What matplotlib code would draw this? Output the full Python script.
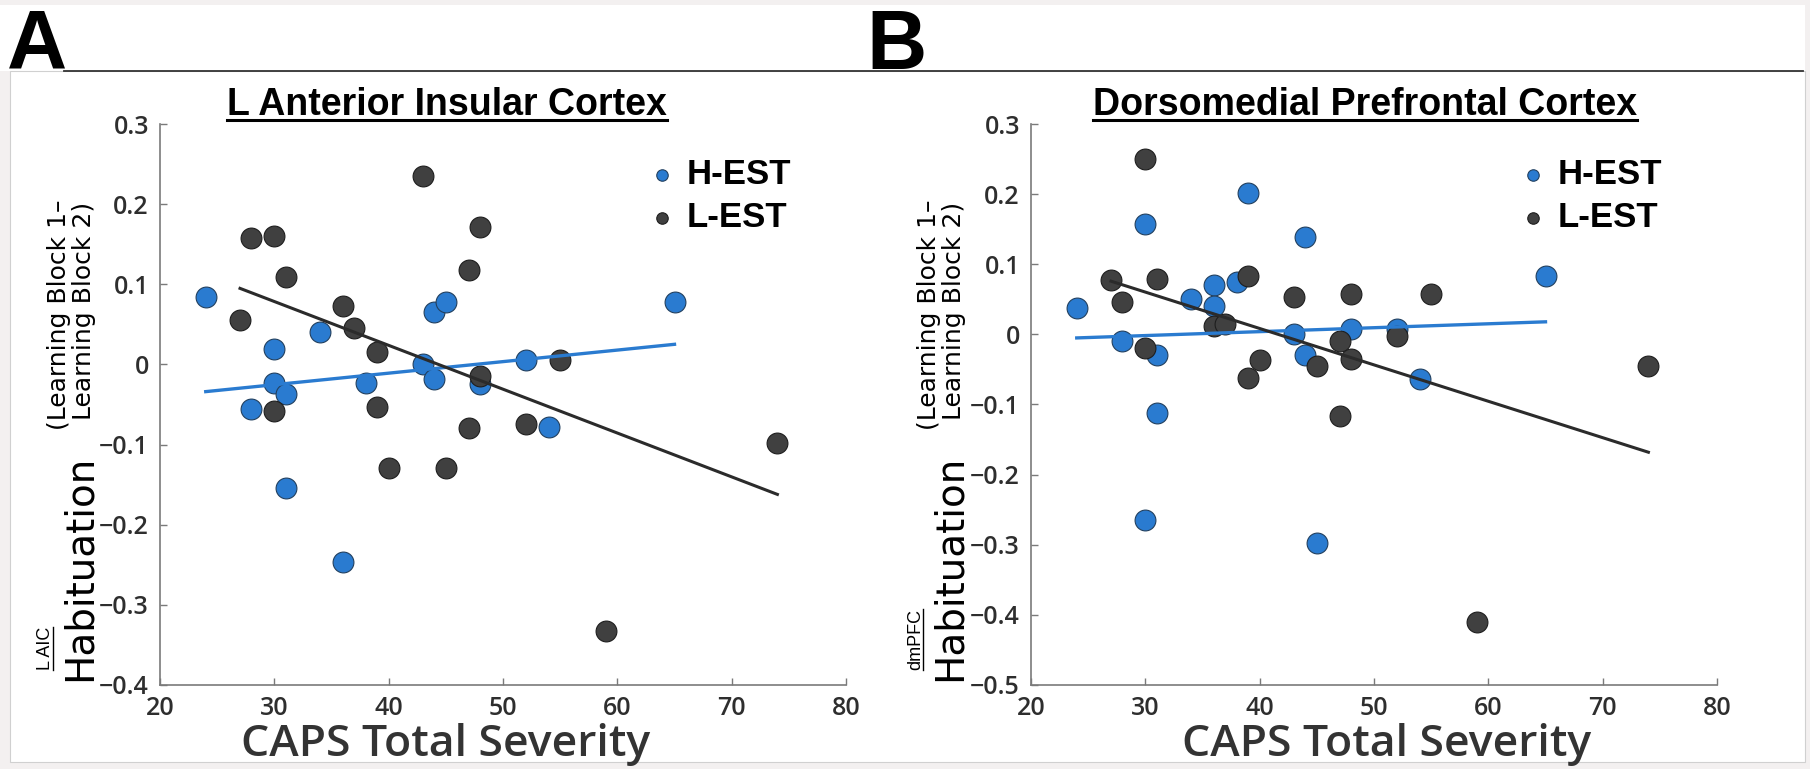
import numpy as np
import matplotlib.pyplot as plt
from matplotlib.lines import Line2D
from matplotlib.patches import Rectangle
from matplotlib.ticker import FuncFormatter

# CAPS total severity (x) for each group
caps_h_a = [24, 28, 30, 30, 31, 31, 34, 36, 38, 43, 44, 44, 45, 48, 52, 54, 65]
caps_h_b = [24, 28, 30, 30, 31, 31, 34, 36, 36, 38, 39, 43, 44, 44, 45, 48, 52, 54, 65]
caps_l = [27, 28, 30, 30, 31, 36, 37, 39, 39, 40, 43, 45, 47, 47, 48, 48, 52, 55, 59, 74]

# habituation values, panel A (L AIC)
hab_h_a = [0.084, -0.055, 0.019, -0.023, -0.037, -0.154, 0.041, -0.247, -0.023,
           0.0, 0.065, -0.018, 0.078, -0.025, 0.006, -0.078, 0.078]
hab_l_a = [0.055, 0.158, 0.160, -0.058, 0.109, 0.073, 0.046, 0.015, -0.053, -0.129,
           0.235, -0.129, 0.118, -0.079, 0.172, -0.014, -0.074, 0.005, -0.332, -0.098]

# habituation values, panel B (dmPFC)
hab_h_b = [0.037, -0.009, 0.157, -0.264, -0.030, -0.112, 0.051, 0.070, 0.041, 0.075,
           0.201, 0.0, 0.139, -0.030, -0.298, 0.008, 0.008, -0.063, 0.083]
hab_l_b = [0.078, 0.046, 0.250, -0.019, 0.079, 0.012, 0.015, 0.083, -0.062, -0.037,
           0.054, -0.045, -0.010, -0.116, 0.058, -0.035, -0.002, 0.057, -0.410, -0.045]

# least-squares lines as drawn (slope, intercept), panel A then B
fit_h = [(0.00144, -0.0685), (0.00056, -0.0185)]
fit_l = [(-0.00547, 0.2426), (-0.00519, 0.216)]

titles = ["L Anterior Insular Cortex", "Dorsomedial Prefrontal Cortex"]
roi_tags = ["L AIC", "dmPFC"]
panel_letters = ["A", "B"]
ylims = [(-0.4, 0.3), (-0.5, 0.3)]

BLUE = "#2a7bd0"
DARK = "#404040"

W, H = 1810, 769


def fx(px):
    return px / W


def fy(py):
    return 1 - py / H


fig = plt.figure(figsize=(W / 100, H / 100), dpi=100, facecolor="#f3f0f0")
fig.patches.append(Rectangle((fx(0), fy(71)), fx(1805), 66 / H, transform=fig.transFigure,
                             facecolor="white", edgecolor="none", zorder=-5))
fig.patches.append(Rectangle((fx(10), fy(762)), 1795 / W, 691 / H, transform=fig.transFigure,
                             facecolor="white", edgecolor="#d0d0d0", lw=0.8, zorder=-5))
fig.lines.append(Line2D([fx(64), fx(1803)], [fy(71), fy(71)], transform=fig.transFigure,
                        color="#333333", lw=1.3))

tick_fmt = FuncFormatter(lambda v, p: "0" if abs(v) < 1e-9 else f"{v:.1f}".replace("-", "\u2212"))

axes_left = [160, 1031]
title_cx = [447, 1365]
xlabel_cx = [446, 1387]
letter_x = [7, 866]
ylab_base = [0, 870]   # x offset of the y-label block

underlines = []

for i, ax_left in enumerate(axes_left):
    ax = fig.add_axes([fx(ax_left), fy(685), 686 / W, 561 / H])
    ax.patch.set_alpha(0)
    if i == 0:
        xh, yh, yl = caps_h_a, hab_h_a, hab_l_a
    else:
        xh, yh, yl = caps_h_b, hab_h_b, hab_l_b

    sh = ax.scatter(xh, yh, s=225, color=BLUE, edgecolor="#22405f", lw=0.8, zorder=3)
    sl = ax.scatter(caps_l, yl, s=225, color=DARK, edgecolor="#1e1e1e", lw=0.8, zorder=4)

    xs = np.array([min(xh), max(xh)])
    ax.plot(xs, fit_h[i][0] * xs + fit_h[i][1], color=BLUE, lw=2.4, zorder=5)
    xs = np.array([min(caps_l), max(caps_l)])
    ax.plot(xs, fit_l[i][0] * xs + fit_l[i][1], color="#2b2b2b", lw=2.2, zorder=5)

    ax.set_xlim(20, 80)
    ax.set_ylim(*ylims[i])
    ax.set_xticks(range(20, 81, 10))
    ax.set_yticks(np.arange(ylims[i][0], ylims[i][1] + 0.01, 0.1))
    ax.yaxis.set_major_formatter(tick_fmt)
    for s in ["top", "right"]:
        ax.spines[s].set_visible(False)
    for s in ["left", "bottom"]:
        ax.spines[s].set_color("#7a7a7a")
        ax.spines[s].set_linewidth(1.2)
    ax.tick_params(direction="in", length=5, width=1, color="#7a7a7a",
                   labelsize=18, labelcolor="#2e2e2e", pad=8)
    for lab in ax.get_xticklabels() + ax.get_yticklabels():
        lab.set_family(["Open Sans", "DejaVu Sans"])
        lab.set_weight("semibold")

    ax.legend([sh, sl], ["H-EST", "L-EST"], loc="upper left",
              bbox_to_anchor=(fx(ax_left + 492), fy(158)), bbox_transform=fig.transFigure,
              frameon=False, markerscale=0.55, handlelength=0.6, handletextpad=0.4,
              labelspacing=0.3, borderpad=0, borderaxespad=0,
              prop={"family": "Liberation Sans", "weight": "bold", "size": 25})

    # panel letter
    fig.text(fx(letter_x[i]), fy(69), panel_letters[i], fontsize=60, weight="bold",
             family="Liberation Sans", ha="left", va="baseline")

    # title with underline
    t = fig.text(fx(title_cx[i]), fy(115), titles[i], fontsize=27, weight="bold",
                 family="Liberation Sans", ha="center", va="baseline")
    underlines.append(("h", t, 120))

    # x label
    fig.text(fx(xlabel_cx[i]), fy(756), "CAPS Total Severity", fontsize=32, weight="semibold",
             family=["Open Sans", "DejaVu Sans"], color="#333333", ha="center", va="baseline")

    # y label block
    ox = ylab_base[i]
    fig.text(fx(ox + 91), fy(681), "Habituation", fontsize=28, rotation=90,
             rotation_mode="anchor", ha="left", va="baseline", family="DejaVu Sans")
    fig.text(fx(ox + 66), fy(430), "(Learning Block 1\u2013", fontsize=18, rotation=90,
             rotation_mode="anchor", ha="left", va="baseline", family="DejaVu Sans")
    fig.text(fx(ox + 91), fy(420), "Learning Block 2)", fontsize=18, rotation=90,
             rotation_mode="anchor", ha="left", va="baseline", family="DejaVu Sans")
    tg = fig.text(fx(ox + 50), fy(670), roi_tags[i], fontsize=13, rotation=90,
                  rotation_mode="anchor", ha="left", va="baseline", family="Liberation Sans")
    underlines.append(("v", tg, ox + 53))

fig.canvas.draw()
r = fig.canvas.get_renderer()
for kind, t, pos in underlines:
    bb = t.get_window_extent(r)
    if kind == "h":
        fig.lines.append(Line2D([bb.x0 / W, bb.x1 / W], [fy(pos), fy(pos)],
                                transform=fig.transFigure, color="black", lw=2.2))
    else:
        fig.lines.append(Line2D([fx(pos), fx(pos)], [bb.y0 / H, bb.y1 / H],
                                transform=fig.transFigure, color="black", lw=1))

fig.savefig("out.png", dpi=100, facecolor=fig.get_facecolor())
